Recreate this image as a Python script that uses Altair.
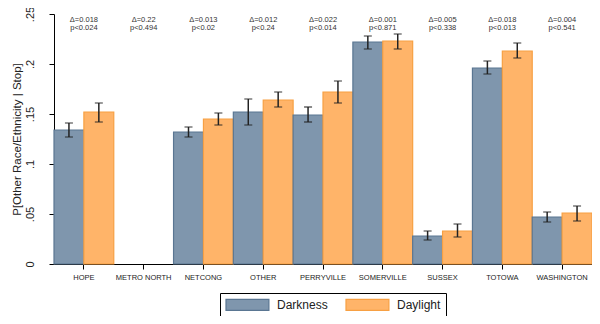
import altair as alt
import pandas as pd

categories = ["HOPE", "METRO NORTH", "NETCONG", "OTHER", "PERRYVILLE",
              "SOMERVILLE", "SUSSEX", "TOTOWA", "WASHINGTON"]
dark_val = [0.134, None, 0.132, 0.152, 0.149, 0.222, 0.028, 0.196, 0.047]
dark_lo = [0.127, None, 0.127, 0.139, 0.142, 0.215, 0.024, 0.190, 0.042]
dark_hi = [0.141, None, 0.137, 0.165, 0.157, 0.228, 0.033, 0.203, 0.052]
day_val = [0.152, None, 0.145, 0.164, 0.172, 0.223, 0.033, 0.213, 0.051]
day_lo = [0.142, None, 0.139, 0.157, 0.161, 0.215, 0.027, 0.206, 0.043]
day_hi = [0.161, None, 0.151, 0.172, 0.183, 0.230, 0.040, 0.221, 0.058]
deltas = ["Δ=0.018", "Δ=0.22", "Δ=0.013", "Δ=0.012", "Δ=0.022",
          "Δ=0.001", "Δ=0.005", "Δ=0.018", "Δ=0.004"]
pvals = ["p<0.024", "p<0.494", "p<0.02", "p<0.24", "p<0.014",
         "p<0.871", "p<0.338", "p<0.013", "p<0.541"]
groups = ["Darkness", "Daylight"]
fills = ["#7f96ad", "#ffb469"]
strokes = ["#5a7692", "#f7a043"]

rows = []
for i, c in enumerate(categories):
    rows.append({"cat": c, "grp": "Darkness", "v": dark_val[i], "lo": dark_lo[i], "hi": dark_hi[i]})
    rows.append({"cat": c, "grp": "Daylight", "v": day_val[i], "lo": day_lo[i], "hi": day_hi[i]})
df = pd.DataFrame(rows).dropna()
ann = pd.DataFrame({"cat": categories, "d": deltas, "p": pvals})

xenc = alt.X("cat:N", scale=alt.Scale(domain=categories, paddingInner=0, paddingOuter=0),
             axis=alt.Axis(title=None, labelFontSize=7.5, labelAngle=0, labelPadding=4,
                           tickSize=5, domainColor="black", tickColor="black", labelColor="#222"))
xoff = alt.XOffset("grp:N", scale=alt.Scale(domain=groups, paddingInner=0, paddingOuter=0))

bars = alt.Chart(df).mark_bar(strokeWidth=1.2).encode(
    x=xenc, xOffset=xoff,
    y=alt.Y("v:Q", scale=alt.Scale(domain=[0, 0.25], nice=False),
            axis=alt.Axis(title="P[Other Race/Ethnicity | Stop]", values=[0, 0.05, 0.1, 0.15, 0.2, 0.25],
                          labelExpr="datum.value == 0 ? '0' : slice(format(datum.value, '.2~f'), 1)",
                          labelAngle=270, labelAlign="center", labelBaseline="bottom",
                          labelFontSize=11, titleFontSize=11.5, titleFontWeight="normal",
                          tickSize=5, grid=False, domainColor="black", tickColor="black",
                          labelColor="#222", titleColor="#222", labelPadding=14, titlePadding=2)),
    fill=alt.Fill("grp:N", scale=alt.Scale(domain=groups, range=fills),
                  legend=alt.Legend(title=None)),
    stroke=alt.Stroke("grp:N", scale=alt.Scale(domain=groups, range=strokes),
                      legend=alt.Legend(title=None)),
)

rule = alt.Chart(df).mark_rule(color="#222", strokeWidth=1.5).encode(
    x=xenc, xOffset=xoff, y="lo:Q", y2="hi:Q")
cap_lo = alt.Chart(df).mark_tick(color="#222", thickness=1.3, size=8, orient="horizontal").encode(
    x=xenc, xOffset=xoff, y="lo:Q")
cap_hi = alt.Chart(df).mark_tick(color="#222", thickness=1.3, size=8, orient="horizontal").encode(
    x=xenc, xOffset=xoff, y="hi:Q")

t1 = alt.Chart(ann).mark_text(fontSize=7.5, color="#333").encode(x=xenc, y=alt.value(6), text="d:N")
t2 = alt.Chart(ann).mark_text(fontSize=7.5, color="#333").encode(x=xenc, y=alt.value(14), text="p:N")

chart = alt.layer(bars, rule, cap_lo, cap_hi, t1, t2).properties(
    width=538, height=250,
    autosize=alt.AutoSizeParams(type="none"),
    padding={"left": 46, "top": 6, "right": 0, "bottom": 52}
).configure(font="Liberation Sans").configure_view(stroke=None).configure_legend(
    orient="none", legendX=166, legendY=279, direction="horizontal",
    strokeColor="black", strokeWidth=1, padding=5, labelFontSize=12, labelColor="#222",
    symbolType="M-1,-1H6.8V1H-1Z", symbolSize=121, symbolStrokeWidth=1.2,
    symbolOpacity=1, columnPadding=15, labelOffset=39
)

chart.save("out.html", embed_options={"renderer": "svg", "actions": False})
